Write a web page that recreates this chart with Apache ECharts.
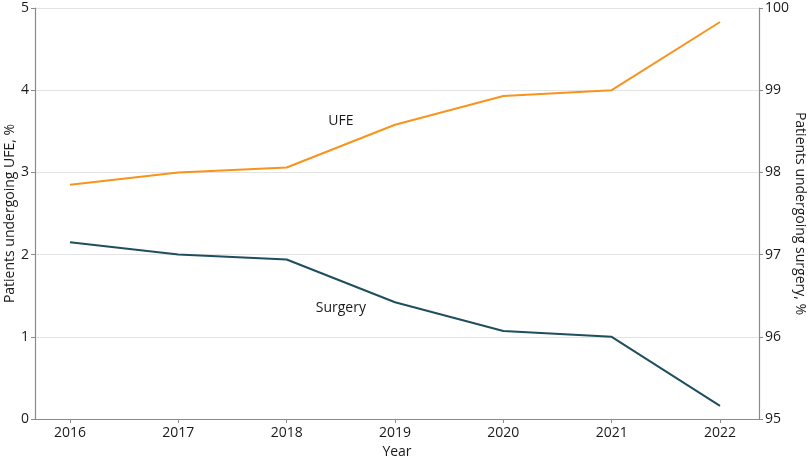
<!DOCTYPE html>
<html>
<head>
<meta charset="utf-8">
<script src="https://cdn.jsdelivr.net/npm/echarts@6/dist/echarts.min.js"></script>
<style>html,body{margin:0;padding:0;background:#fff;}#c{width:810px;height:463px;}</style>
</head>
<body>
<div id="c"></div>
<script>
var years = [2016, 2017, 2018, 2019, 2020, 2021, 2022];
var ufePct = [2.85, 3.00, 3.06, 3.58, 3.93, 4.00, 4.83];
var surgeryPct = [97.15, 97.00, 96.94, 96.42, 96.07, 96.00, 95.16];
var leftTicks = [0, 1, 2, 3, 4, 5];
var rightTicks = [95, 96, 97, 98, 99, 100];

var font = 'Open Sans';
var axisColor = '#8a8a8a';
var textColor = '#1a1a1a';
var fs = 14;

var chart = echarts.init(document.getElementById('c'), null, {renderer: 'canvas'});
chart.setOption({
  animation: false,
  textStyle: {fontFamily: font},
  grid: {left: 35, right: 51, top: 8, bottom: 44, containLabel: false, outerBoundsMode: 'none'},
  xAxis: {
    type: 'value',
    min: 2015.677,
    max: 2022.36,
    name: 'Year',
    nameLocation: 'middle',
    nameGap: 26,
    nameMoveOverlap: false,
    nameTextStyle: {fontFamily: font, fontSize: fs, color: textColor},
    axisLine: {show: true, onZero: false, lineStyle: {color: axisColor, width: 1.2}},
    axisTick: {show: true, customValues: years, length: 4, lineStyle: {color: axisColor}},
    axisLabel: {customValues: years, fontFamily: font, fontSize: fs, color: textColor, margin: 7,
      formatter: function (v) { return String(v); }},
    splitLine: {show: false}
  },
  yAxis: [
    {
      type: 'value', min: 0, max: 5, interval: 1, position: 'left',
      name: 'Patients undergoing UFE, %',
      nameLocation: 'middle', nameGap: 18, nameRotate: 90,
      nameMoveOverlap: false,
      nameTextStyle: {fontFamily: font, fontSize: fs, color: textColor},
      axisLine: {show: true, lineStyle: {color: axisColor, width: 1.2}},
      axisTick: {show: true, length: 4, lineStyle: {color: axisColor}},
      axisLabel: {fontFamily: font, fontSize: fs, color: textColor, margin: 6},
      splitLine: {show: true, lineStyle: {color: '#e3e3e3', width: 1}}
    },
    {
      type: 'value', min: 95, max: 100, interval: 1, position: 'right',
      name: 'Patients undergoing surgery, %',
      nameLocation: 'middle', nameGap: 34, nameRotate: -90,
      nameMoveOverlap: false,
      nameTextStyle: {fontFamily: font, fontSize: fs, color: textColor},
      axisLine: {show: true, lineStyle: {color: axisColor, width: 1.2}},
      axisTick: {show: true, length: 4, lineStyle: {color: axisColor}},
      axisLabel: {fontFamily: font, fontSize: fs, color: textColor, margin: 6},
      splitLine: {show: false}
    }
  ],
  series: [
    {
      name: 'UFE', type: 'line', yAxisIndex: 0,
      data: years.map(function (y, i) { return [y, ufePct[i]]; }),
      showSymbol: false, symbol: 'none',
      lineStyle: {color: '#F7941D', width: 2},
      itemStyle: {color: '#F7941D'},
      markPoint: {
        symbol: 'circle', symbolSize: 1, itemStyle: {color: 'rgba(0,0,0,0)'},
        label: {show: true, position: 'inside', formatter: 'UFE', fontFamily: font, fontSize: fs, color: textColor},
        data: [{coord: [2018.5, 3.62]}]
      }
    },
    {
      name: 'Surgery', type: 'line', yAxisIndex: 1,
      data: years.map(function (y, i) { return [y, surgeryPct[i]]; }),
      showSymbol: false, symbol: 'none',
      lineStyle: {color: '#1F4E5E', width: 2},
      itemStyle: {color: '#1F4E5E'},
      markPoint: {
        symbol: 'circle', symbolSize: 1, itemStyle: {color: 'rgba(0,0,0,0)'},
        label: {show: true, position: 'inside', formatter: 'Surgery', fontFamily: font, fontSize: fs, color: textColor},
        data: [{coord: [2018.5, 96.35]}]
      }
    }
  ]
});
</script>
</body>
</html>
